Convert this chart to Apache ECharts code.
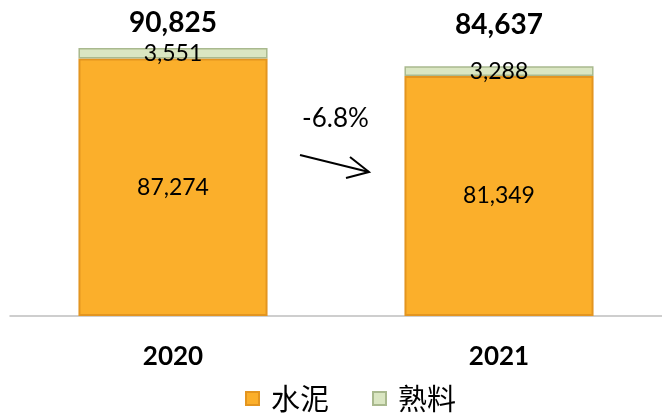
<!DOCTYPE html>
<html>
<head>
<meta charset="utf-8">
<script src="https://cdn.jsdelivr.net/npm/echarts@6/dist/echarts.min.js"></script>
<style>html,body{margin:0;padding:0;background:#fff;}#c{width:662px;height:414px;}</style>
</head>
<body>
<div id="c"></div>
<script>
const years = ['2020', '2021'];
const cement = [87274, 81349];
const clinker = [3551, 3288];
const totals = [90825, 84637];
const changeText = '-6.8%';
const seriesNames = ['水泥', '熟料'];

const fmt = v => v.toLocaleString('en-US');
const numFont = 'Lato, "Open Sans", sans-serif';
const totalDist = [11, 27];

const chart = echarts.init(document.getElementById('c'));
chart.setOption({
  animation: false,
  grid: { left: 10, right: 0, top: 21, bottom: 98 },
  xAxis: {
    type: 'category', data: years,
    axisLine: { lineStyle: { color: '#BFBFBF', width: 1.5 } },
    axisTick: { show: false },
    axisLabel: { fontSize: 26, fontWeight: 'bold', color: '#000', fontFamily: numFont, margin: 28 }
  },
  yAxis: { type: 'value', min: 0, max: 100000, show: false, splitLine: { show: false } },
  legend: {
    bottom: -4, left: 240, itemWidth: 13, itemHeight: 13, itemGap: 43,
    icon: 'rect',
    data: seriesNames,
    textStyle: { fontSize: 29, color: '#000', fontFamily: '"Noto Sans CJK TC", sans-serif', padding: [0, 0, 0, 7] }
  },
  series: [
    {
      name: seriesNames[0], type: 'bar', stack: 'a', barCategoryGap: '42%',
      data: cement,
      itemStyle: { color: '#FBAF2B', borderColor: '#E39520', borderWidth: 2 },
      label: { show: true, position: 'inside', fontSize: 23, color: '#000', fontFamily: numFont, formatter: p => fmt(p.value) }
    },
    {
      name: seriesNames[1], type: 'bar', stack: 'a',
      data: clinker,
      itemStyle: { color: '#DAE6C2', borderColor: '#A9B98E', borderWidth: 1.5 },
      label: { show: true, position: 'inside', fontSize: 23, color: '#000', fontFamily: numFont, formatter: p => fmt(p.value) }
    },
    {
      name: 'total', type: 'bar', barGap: '-100%', silent: true,
      data: totals.map((v, i) => ({ value: v, label: { distance: totalDist[i] } })),
      itemStyle: { color: 'transparent' },
      label: { show: true, position: 'top', fontSize: 28, fontWeight: 'bold', color: '#000', fontFamily: numFont, formatter: p => fmt(p.value) },
      z: 5
    }
  ],
  graphic: [
    { type: 'text', left: 302, top: 106, style: { text: changeText, fontSize: 26, fill: '#000', fontFamily: numFont } },
    { type: 'line', shape: { x1: 300, y1: 155, x2: 369, y2: 172 }, style: { stroke: '#000', lineWidth: 2 } },
    { type: 'polyline', shape: { points: [[350, 157], [369, 172], [346, 178]] }, style: { stroke: '#000', lineWidth: 2, fill: null } }
  ]
});
</script>
</body>
</html>
